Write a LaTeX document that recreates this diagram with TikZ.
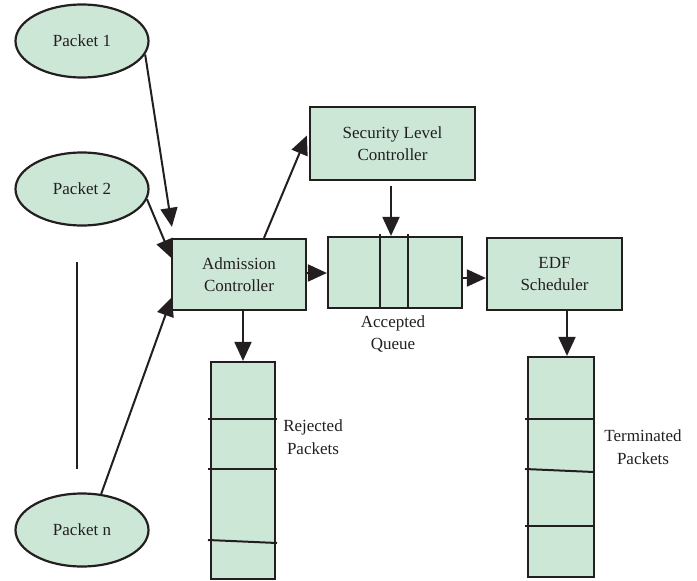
\documentclass[tikz,border=0pt]{standalone}
\usepackage{fontspec}
\setmainfont{Liberation Serif}
\usetikzlibrary{shapes.geometric,arrows.meta,calc}
\definecolor{boxfill}{RGB}{205,231,214}
\definecolor{ink}{RGB}{35,31,32}
\begin{document}
\begin{tikzpicture}[x=1pt,y=-1pt,
  every node/.style={font=\fontsize{17}{22.5}\selectfont, text=ink},
  packet/.style={ellipse, draw=ink, line width=2.2pt, fill=boxfill,
    minimum width=133pt, minimum height=73pt, inner sep=0pt},
  unit/.style={rectangle, draw=ink, line width=2.2pt, fill=boxfill,
    align=center, inner sep=0pt},
  label/.style={align=center, inner sep=0pt},
  arr/.style={draw=ink, line width=2pt, -{Triangle[length=19pt,width=17pt]}},
  link/.style={draw=ink, line width=2pt},
  divider/.style={draw=ink, line width=2pt}]
\useasboundingbox (0,0) rectangle (697,581);

% packet sources
\node[packet] (p1) at (82,41) {Packet 1};
\node[packet] (p2) at (82,189) {Packet 2};
\node[packet] (pn) at (82,530) {Packet n};
\coordinate (dotsA) at (77,262);
\coordinate (dotsB) at (77,469);
\draw[link] (dotsA) -- (dotsB);

% processing units
\node[unit, minimum width=134pt, minimum height=71pt] (adm) at (239,274.5)
  {Admission\\Controller};
\node[unit, minimum width=165pt, minimum height=73pt] (sec) at (392.5,143.5)
  {Security Level\\Controller};
\node[unit, minimum width=135pt, minimum height=72pt] (edf) at (554.5,274)
  {EDF\\Scheduler};

% accepted queue with its slots
\node[unit, minimum width=134pt, minimum height=71pt] (q) at (395,272.5) {};
\draw[divider] (380,234) -- (380,308);
\draw[divider] (408,234) -- (408,308);
\node[label] (qlab) at (393,334) {Accepted\\Queue};

% rejected packets stack
\node[unit, minimum width=64pt, minimum height=217pt] (rej) at (243,470.5) {};
\draw[divider] (208,419) -- (277,419);
\draw[divider] (208,469) -- (277,469);
\draw[divider] (208,540) -- (277,543);
\node[label] (rlab) at (313,437) {Rejected\\Packets};

% terminated packets stack
\node[unit, minimum width=66pt, minimum height=220pt] (term) at (561,467) {};
\draw[divider] (525,419) -- (594,419);
\draw[divider] (525,469) -- (594,472);
\draw[divider] (525,526) -- (594,526);
\node[label] (tlab) at (643,447) {Terminated\\Packets};

% incoming packets
\draw[arr] (p1.-12) -- ($(adm.north west)+(1,-11)$);
\draw[arr] (p2.-9) -- ($(adm.west)+(1,-16)$);
\draw[arr] (pn.62) -- ($(adm.south west)+(1,-14)$);

% flow between units
\draw[arr] ($(adm.north)+(25,0)$) -- ($(sec.west)+(-2,-8)$);
\draw[arr] ([xshift=-1.5pt, yshift=-5pt]sec.south) -- ([xshift=-1.5pt]sec.south |- q.north);
\draw[arr] (adm.east |- 0,273) -- (q.west |- 0,273);
\draw[arr] (q.east |- 0,278) -- (edf.west |- 0,278);
\draw[arr] (rej.north |- adm.south) -- (rej.north);
\draw[arr] ([xshift=6pt]term.north |- edf.south) -- ([xshift=6pt]term.north);
\end{tikzpicture}
\end{document}
